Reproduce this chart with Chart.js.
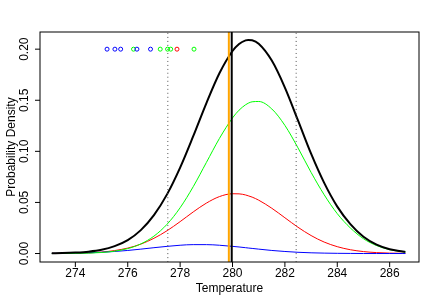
<!DOCTYPE html>
<html>
<head>
<meta charset="utf-8">
<script src="https://cdn.jsdelivr.net/npm/chart.js@4/dist/chart.umd.min.js"></script>
<style>
body { margin: 0; background: #fff; }
canvas { display: block; }
</style>
</head>
<body>
<canvas id="bma-chart" width="436" height="303"></canvas>
<script>
// values
const temps = [273.1, 273.5, 274, 274.5, 275, 275.5, 276, 276.5, 277, 277.5, 278, 278.5, 279, 279.5, 280, 280.25, 280.5, 280.6, 280.75, 281, 281.5, 282, 282.5, 283, 283.5, 284, 284.5, 285, 285.5, 286, 286.5, 286.6];
const totalDensity = [0.0002, 0.0004, 0.0009, 0.0018, 0.0036, 0.0072, 0.0131, 0.0229, 0.0376, 0.0579, 0.0841, 0.1148, 0.1470, 0.1764, 0.1982, 0.2051, 0.2086, 0.2090, 0.2087, 0.2053, 0.1888, 0.1624, 0.1303, 0.0977, 0.0691, 0.0459, 0.0288, 0.0164, 0.0087, 0.0042, 0.0019, 0.0015];
const greenDensity = [0.0000, 0.0001, 0.0002, 0.0004, 0.0010, 0.0023, 0.0048, 0.0094, 0.0170, 0.0286, 0.0448, 0.0654, 0.0890, 0.1126, 0.1327, 0.1403, 0.1456, 0.1471, 0.1485, 0.1488, 0.1415, 0.1254, 0.1034, 0.0794, 0.0575, 0.0390, 0.0250, 0.0145, 0.0078, 0.0038, 0.0017, 0.0014];
const redDensity = [0.0001, 0.0001, 0.0003, 0.0007, 0.0014, 0.0029, 0.0053, 0.0092, 0.0149, 0.0223, 0.0312, 0.0407, 0.0493, 0.0557, 0.0585, 0.0584, 0.0573, 0.0565, 0.0552, 0.0522, 0.0443, 0.0350, 0.0257, 0.0176, 0.0112, 0.0067, 0.0037, 0.0019, 0.0009, 0.0004, 0.0002, 0.0001];
const blueDensity = [0.0001, 0.0002, 0.0004, 0.0007, 0.0012, 0.0020, 0.0030, 0.0043, 0.0057, 0.0070, 0.0081, 0.0087, 0.0087, 0.0081, 0.0070, 0.0064, 0.0057, 0.0054, 0.0050, 0.0043, 0.0030, 0.0020, 0.0012, 0.0007, 0.0004, 0.0002, 0.0001, 0.0000, 0.0000, 0.0000, 0.0000, 0.0000];

// ensemble member forecasts (circles along the top)
const blueMembers = [275.21, 275.51, 275.73, 276.35, 276.87];
const greenMembers = [276.22, 277.24, 277.52, 277.64, 278.53];
const redMembers = [277.88];
const memberHeight = 0.2;

const medianTemp = 279.86;
const observedTemp = 279.97;
const quantileTemps = [277.53, 282.43];

const xTicks = [274, 276, 278, 280, 282, 284, 286];
const yTicks = [0, 0.05, 0.10, 0.15, 0.20];
const xRange = [272.65, 287.12];
const yRange = [-0.0083, 0.2168];

function curve(values) {
    return temps.map((t, i) => ({ x: t, y: values[i] }));
}

function members(list) {
    return list.map(t => ({ x: t, y: memberHeight }));
}

function vline(t) {
    return [{ x: t, y: yRange[0] }, { x: t, y: yRange[1] }];
}

// R style box, ticks and labels
const rAxes = {
    id: 'rAxes',
    afterDraw(chart) {
        const ctx = chart.ctx;
        const area = chart.chartArea;
        const xs = chart.scales.x;
        const ys = chart.scales.y;
        ctx.save();
        ctx.strokeStyle = '#000';
        ctx.lineWidth = 1;
        ctx.strokeRect(area.left, area.top, area.right - area.left, area.bottom - area.top);
        ctx.beginPath();
        xTicks.forEach(t => {
            const px = xs.getPixelForValue(t);
            ctx.moveTo(px, area.bottom);
            ctx.lineTo(px, area.bottom + 5);
        });
        yTicks.forEach(t => {
            const py = ys.getPixelForValue(t);
            ctx.moveTo(area.left, py);
            ctx.lineTo(area.left - 5, py);
        });
        ctx.stroke();

        ctx.fillStyle = '#000';
        ctx.font = '12px "Liberation Sans", Arial, sans-serif';
        ctx.textAlign = 'center';
        ctx.textBaseline = 'alphabetic';
        xTicks.forEach(t => {
            ctx.fillText(String(t), xs.getPixelForValue(t), 277);
        });
        ctx.fillText('Temperature', (area.left + area.right) / 2, 292);

        yTicks.forEach(t => {
            ctx.save();
            ctx.translate(28, ys.getPixelForValue(t));
            ctx.rotate(-Math.PI / 2);
            ctx.fillText(t.toFixed(2), 0, 0);
            ctx.restore();
        });
        ctx.save();
        ctx.translate(15, (area.top + area.bottom) / 2);
        ctx.rotate(-Math.PI / 2);
        ctx.fillText('Probability Density', 0, 0);
        ctx.restore();
        ctx.restore();
    }
};

const lineDefaults = { showLine: true, pointRadius: 0, cubicInterpolationMode: 'monotone' };

new Chart(document.getElementById('bma-chart'), {
    type: 'scatter',
    data: {
        datasets: [
            { ...lineDefaults, data: curve(blueDensity), borderColor: '#0000ff', borderWidth: 1, order: 6 },
            { ...lineDefaults, data: curve(redDensity), borderColor: '#ff0000', borderWidth: 1, order: 6 },
            { ...lineDefaults, data: curve(greenDensity), borderColor: '#00ff00', borderWidth: 1, order: 5 },
            { ...lineDefaults, data: curve(totalDensity), borderColor: '#000000', borderWidth: 2, order: 4 },
            { ...lineDefaults, data: vline(quantileTemps[0]), borderColor: '#555', borderWidth: 1, borderDash: [1, 3], order: 3 },
            { ...lineDefaults, data: vline(quantileTemps[1]), borderColor: '#555', borderWidth: 1, borderDash: [1, 3], order: 3 },
            { ...lineDefaults, data: vline(medianTemp), borderColor: '#ffa500', borderWidth: 2, order: 2 },
            { ...lineDefaults, data: vline(observedTemp), borderColor: '#000000', borderWidth: 2, order: 1 },
            { data: members(blueMembers), pointRadius: 2, pointBorderWidth: 1, pointBorderColor: '#0000ff', pointBackgroundColor: 'rgba(0,0,0,0)', order: 0 },
            { data: members(greenMembers), pointRadius: 2, pointBorderWidth: 1, pointBorderColor: '#00ff00', pointBackgroundColor: 'rgba(0,0,0,0)', order: 0 },
            { data: members(redMembers), pointRadius: 2, pointBorderWidth: 1, pointBorderColor: '#ff0000', pointBackgroundColor: 'rgba(0,0,0,0)', order: 0 }
        ]
    },
    options: {
        responsive: false,
        animation: false,
        layout: { padding: { left: 40, top: 32, right: 17, bottom: 41 } },
        plugins: { legend: { display: false }, tooltip: { enabled: false } },
        scales: {
            x: { type: 'linear', min: xRange[0], max: xRange[1], display: false },
            y: { type: 'linear', min: yRange[0], max: yRange[1], display: false }
        }
    },
    plugins: [rAxes]
});
</script>
</body>
</html>
